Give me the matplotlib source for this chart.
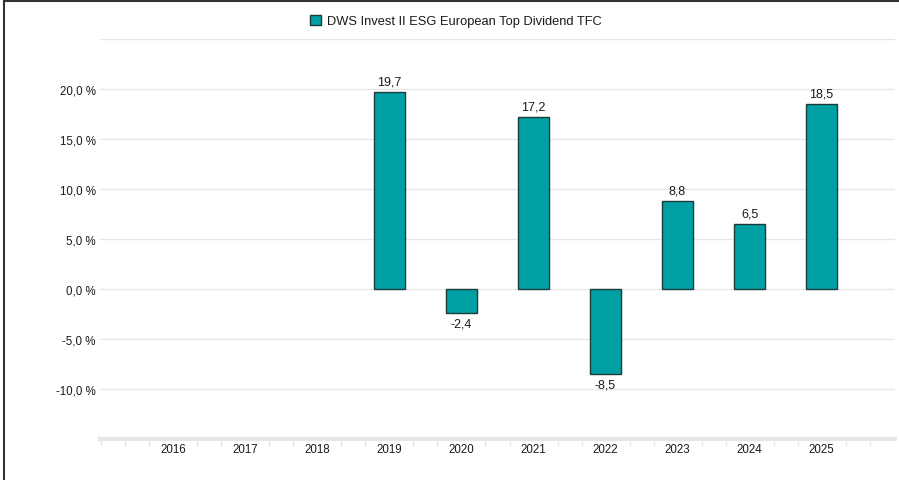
import numpy as np
import matplotlib
matplotlib.use("Agg")
import matplotlib.pyplot as plt
from matplotlib.lines import Line2D
from matplotlib.patches import Patch

plt.rcParams["font.family"] = ["Liberation Sans", "DejaVu Sans"]

# 資料
years = [2016, 2017, 2018, 2019, 2020, 2021, 2022, 2023, 2024, 2025]
values = [None, None, None, 19.7, -2.4, 17.2, -8.5, 8.8, 6.5, 18.5]
y_ticks = [-10, -5, 0, 5, 10, 15, 20]
series_name = "DWS Invest II ESG European Top Dividend TFC"

BAR_COLOR = "#00a0a4"
EDGE_COLOR = "#1d3b3c"
GRID_COLOR = "#e6e6e6"
TEXT_COLOR = "#1a1a1a"

W, H = 899, 481
fig = plt.figure(figsize=(W / 100, H / 100), dpi=100)
ax = fig.add_axes([100 / W, (H - 440) / H, 795 / W, 400 / H])

# 格線
for g in y_ticks + [25]:
    ax.axhline(g, color=GRID_COLOR, linewidth=1.0, zorder=0)

# 長條
xs = [y for y, v in zip(years, values) if v is not None]
vs = [v for v in values if v is not None]
ax.bar(xs, vs, width=0.42, color=BAR_COLOR, edgecolor=EDGE_COLOR, linewidth=1.0, zorder=3)

for x, v in zip(xs, vs):
    txt = f"{v:.1f}".replace(".", ",")
    if v >= 0:
        ax.annotate(txt, (x, v), xytext=(0, 3), textcoords="offset points",
                    ha="center", va="bottom", fontsize=9, color=TEXT_COLOR)
    else:
        ax.annotate(txt, (x, v), xytext=(0, -3), textcoords="offset points",
                    ha="center", va="top", fontsize=9, color=TEXT_COLOR)

ax.set_xlim(2014.98, 2026.02)
ax.set_ylim(-15, 25)

# 座標軸
for s in ["top", "right", "left"]:
    ax.spines[s].set_visible(False)
ax.spines["bottom"].set_color(GRID_COLOR)
ax.spines["bottom"].set_linewidth(3)

ax.set_yticks(y_ticks)
ax.set_yticklabels([f"{t:.1f} %".replace(".", ",") for t in y_ticks])
ax.tick_params(axis="y", length=0, pad=3, labelsize=8.3, labelcolor=TEXT_COLOR)

ax.set_xticks(years)
ax.set_xticklabels([str(y) for y in years])
ax.tick_params(axis="x", which="major", length=0, pad=3, labelsize=8.3, labelcolor=TEXT_COLOR)
minor = []
for c in range(2015, 2027):
    minor += [c - 1 / 3, c + 1 / 3]
ax.set_xticks([m for m in minor if 2015 <= m <= 2026.02] + [2015], minor=True)
ax.tick_params(axis="x", which="minor", length=5, width=1, color=GRID_COLOR)

# 圖例
fig.legend(handles=[Patch(facecolor=BAR_COLOR, edgecolor=EDGE_COLOR, linewidth=1.0, label=series_name)],
           loc="center", bbox_to_anchor=(456 / W, 1 - 22 / H), frameon=False,
           fontsize=9.3, handlelength=0.8, handleheight=0.8, handletextpad=0.5,
           labelcolor=TEXT_COLOR)

# 外框（左、上）
fig.add_artist(Line2D([4 / W, 4 / W], [0, 1 - 2 / H], color="#333333", linewidth=1.5,
                      transform=fig.transFigure))
fig.add_artist(Line2D([4 / W, 1], [1 - 2 / H, 1 - 2 / H], color="#333333", linewidth=1.5,
                      transform=fig.transFigure))

fig.savefig("out.png", dpi=100)
